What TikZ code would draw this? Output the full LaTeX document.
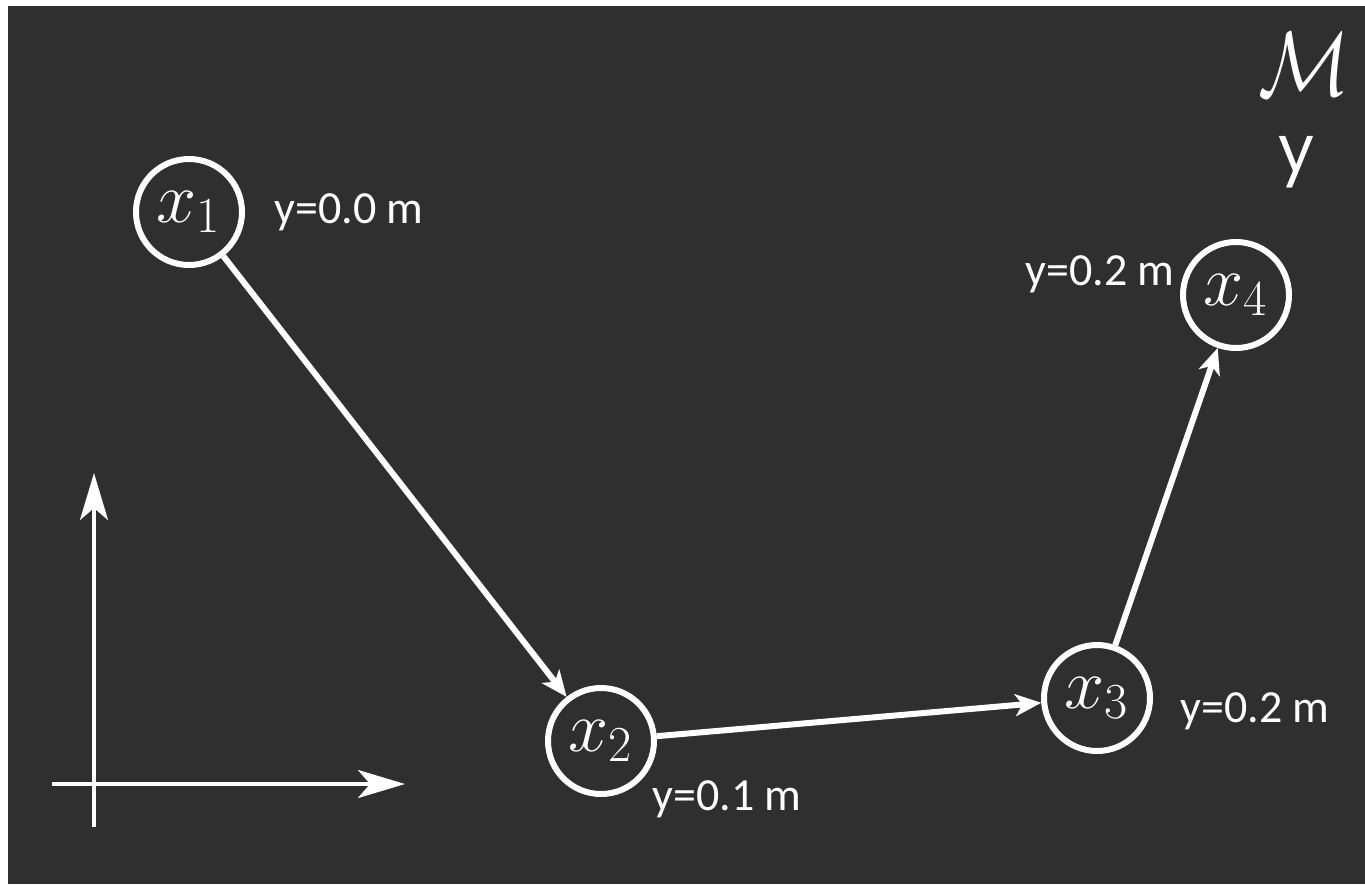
\documentclass[tikz,border=0pt]{standalone}
\usepackage{fix-cm}
\usepackage{fontspec}
\setmainfont{Carlito}
\newfontfamily\geofont{Poppins}
\usetikzlibrary{arrows.meta}
\definecolor{bgdark}{HTML}{2F2F2F}
\tikzset{
  statenode/.style={circle,draw=white,line width=3pt,minimum size=53pt,inner sep=0pt,text=white,font=\fontsize{36}{42}\selectfont},
  conn/.style={draw=white,line width=3pt,-{Stealth[length=13pt,width=11pt,inset=3.5pt]}},
  axisline/.style={draw=white,line width=2pt,-{Stealth[length=23.5pt,width=14pt,inset=6pt]}},
  ylabel/.style={text=white,inner sep=0pt,anchor=base west,font=\fontsize{23}{27}\selectfont},
}
\begin{document}
\begin{tikzpicture}[x=0.5pt,y=-0.5pt]
\useasboundingbox (0,0) rectangle (1365,884);
\fill[white] (0,0) rectangle (1365,884);
\fill[bgdark] (8,6) rectangle (1365,884);
% state nodes
\node[statenode] (x1) at (189,212) {$x_1$};
\node[statenode] (x2) at (601,741) {$x_2$};
\node[statenode] (x3) at (1097,698) {$x_3$};
\node[statenode] (x4) at (1236,295) {$x_4$};
% labels
\node[ylabel] (l1) at (274,223) {y=0.0 m};
\node[ylabel] (l2) at (652,810) {y=0.1 m};
\node[ylabel] (l3) at (1180,722) {y=0.2 m};
\node[ylabel] (l4) at (1025,285) {y=0.2 m};
% connectors
\draw[conn] (x1) -- (x2);
\draw[conn] (x2) -- (x3);
\draw[conn] (x3) -- (x4);
% corner symbols
\node[text=white,inner sep=0pt,yscale=1.2,font=\fontsize{38}{44}\selectfont] (mm) at (1304,64) {$\mathcal{M}$};
\node[text=white,inner sep=0pt,font=\geofont\fontsize{32}{38}\selectfont] (yy) at (1296,162) {y};
% axes
\coordinate (vb) at (94,827);
\coordinate (vt) at (94,473);
\coordinate (hl) at (52,784);
\coordinate (hr) at (405,784);
\draw[axisline] (vb) -- (vt);
\draw[axisline] (hl) -- (hr);
\end{tikzpicture}
\end{document}
